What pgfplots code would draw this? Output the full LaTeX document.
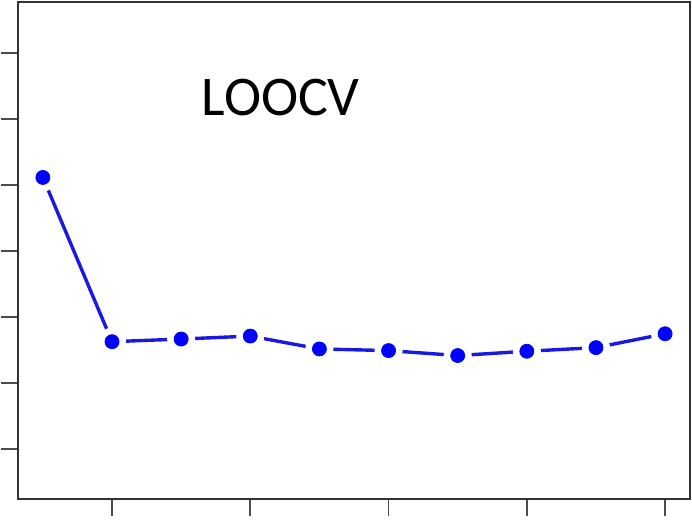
\documentclass[border=0pt]{standalone}
\usepackage{pgfplots}
\usepackage{pgfplotstable}
\pgfplotsset{compat=1.18}
\usepackage{fontspec}
\setmainfont{Carlito}

\definecolor{ptblue}{RGB}{0,0,255}
\definecolor{lnblue}{RGB}{25,25,225}

% LOOCV error against polynomial degree
\pgfplotstableread{
deg err
1  24.23
2  19.25
3  19.33
4  19.42
5  19.03
6  18.98
7  18.83
8  18.96
9  19.07
10 19.49
}\loocv

\begin{document}
\begin{tikzpicture}
\useasboundingbox (0,0) rectangle (346pt,260pt);
\begin{axis}[
    at={(9pt,10.5pt)}, anchor=south west,
    scale only axis,
    width=336pt, height=248.5pt,
    xmin=0.64, xmax=10.36,
    ymin=14.48, ymax=29.55,
    xtick={2,4,6,8,10},
    ytick={16,18,...,28},
    xticklabels={}, yticklabels={},
    xtick pos=bottom, ytick pos=left,
    tick align=outside,
    major tick length=8.5pt,
    tick style={black!70, line width=0.8pt},
    axis line style={black!80, line width=0.8pt},
]
% line first, then a white halo and the dots on top
\addplot[lnblue, line width=1.7pt, no markers] table[x=deg, y=err] {\loocv};
\addplot[white, only marks, mark=*, mark size=6.8pt] table[x=deg, y=err] {\loocv};
\addplot[ptblue, only marks, mark=*, mark size=3.5pt] table[x=deg, y=err] {\loocv};
\node[anchor=base, font=\fontsize{28pt}{30pt}\selectfont, inner sep=0pt]
    at (axis cs:4.44,26.12) {LOOCV};
\end{axis}
\end{tikzpicture}
\end{document}
